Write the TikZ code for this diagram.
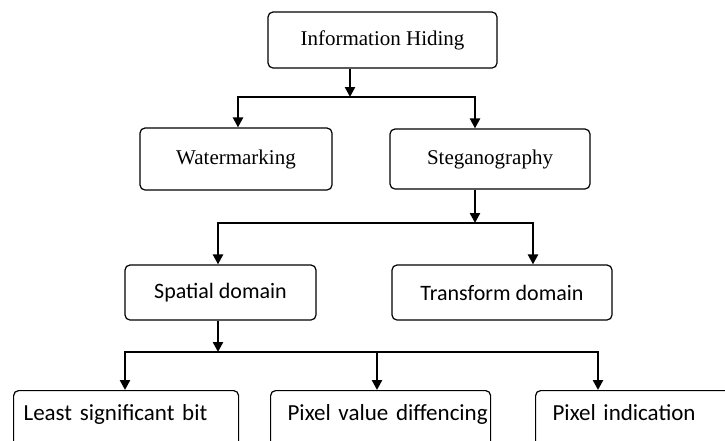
\documentclass[tikz,border=0pt]{standalone}
\usepackage{fontspec}
\usetikzlibrary{arrows.meta}
\newfontfamily\serifr{Liberation Serif}
\newfontfamily\sansc{Carlito}
\begin{document}
\begin{tikzpicture}[x=1pt,y=-1pt,
  boxbase/.style={draw, line width=1.2pt, rounded corners=5pt, inner sep=0pt},
  topbox/.style={boxbase, font=\serifr\fontsize{21}{25}\selectfont},
  midbox/.style={boxbase, font=\sansc\fontsize{22}{26}\selectfont},
  botbox/.style={boxbase, anchor=north west, text height=30pt, text depth=40pt,
    align=left, font=\sansc\fontsize{23}{27}\selectfont},
  arr/.style={line width=2.4pt, -{Triangle[length=10pt,width=10pt]}},
  hline/.style={line width=1.5pt, line cap=rect}]
\useasboundingbox (0,0) rectangle (725,440);
% boxes
\node[topbox, minimum width=229pt, minimum height=56pt] (ih) at (382.5,40) {Information Hiding};
\node[topbox, minimum width=192pt, minimum height=62pt] (wm) at (236,159) {Watermarking};
\node[topbox, minimum width=200pt, minimum height=60pt] (st) at (490,159) {Steganography};
\node[midbox, minimum width=191pt, minimum height=55pt] (sp) at (220.5,292.5) {Spatial domain};
\node[midbox, minimum width=220pt, minimum height=55pt] (tr) at (502,292.5) {Transform domain};
\node[botbox, text width=225pt] (lsb) at (13,390) {\hspace*{10pt}Least significant bit};
\node[botbox, text width=220pt] (pvd) at (270,390) {\hspace*{17pt}Pixel value diffencing};
\node[botbox, text width=225pt] (pi) at (535,390) {\hspace*{17pt}Pixel indication};
% junctions
\coordinate (j1) at (350,97); \coordinate (j1l) at (238,97); \coordinate (j1r) at (475,97);
\coordinate (j2) at (475,223); \coordinate (j2l) at (218,223); \coordinate (j2r) at (533,223);
\coordinate (j3) at (218,352); \coordinate (j3l) at (125,352); \coordinate (j3m) at (377,352); \coordinate (j3r) at (598,352);
% connectors
\draw[arr] (ih.south -| j1) -- (j1);
\draw[hline] (j1l) -- (j1r);
\draw[arr] (j1l) -- (wm.north -| j1l);
\draw[arr] (j1r) -- (st.north -| j1r);
\draw[arr] (st.south -| j2) -- (j2);
\draw[hline] (j2l) -- (j2r);
\draw[arr] (j2l) -- (sp.north -| j2l);
\draw[arr] (j2r) -- (tr.north -| j2r);
\draw[arr] (sp.south -| j3) -- (j3);
\draw[hline] (j3l) -- (j3r);
\draw[arr] (j3l) -- (lsb.north -| j3l);
\draw[arr] (j3m) -- (pvd.north -| j3m);
\draw[arr] (j3r) -- (pi.north -| j3r);
\end{tikzpicture}
\end{document}
